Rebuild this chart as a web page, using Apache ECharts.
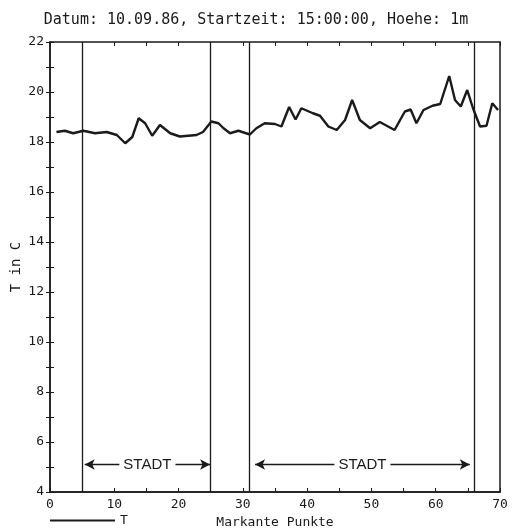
<!DOCTYPE html>
<html><head><meta charset="utf-8">
<script src="https://cdn.jsdelivr.net/npm/echarts@6/dist/echarts.min.js"></script>
<style>html,body{margin:0;padding:0;background:#fff}#c{width:512px;height:529px}</style>
</head><body><div id="c"></div>
<script>
var titleText = 'Datum: 10.09.86, Startzeit: 15:00:00, Hoehe: 1m';
var xPos = [1,2.3,3.6,5.2,7,8.8,10.4,11.7,12.8,13.8,14.8,15.9,17.1,18.7,20.2,22.8,23.8,25.1,26.2,27,28,29.3,31.1,32.1,33.4,35,36,37.2,38.2,39.1,40.9,42,43.3,44.6,45.9,47,48.2,49.8,51.3,53.6,55.2,56.1,57,58.1,59.5,60.7,62.1,63,63.9,64.9,65.8,66.9,67.9,68.8,69.7];
var tVals = [18.4,18.45,18.35,18.45,18.35,18.4,18.28,17.95,18.2,18.95,18.75,18.25,18.68,18.35,18.22,18.28,18.4,18.82,18.75,18.55,18.35,18.45,18.3,18.55,18.75,18.72,18.62,19.4,18.9,19.35,19.15,19.05,18.62,18.48,18.88,19.68,18.88,18.55,18.8,18.48,19.22,19.3,18.75,19.28,19.45,19.52,20.64,19.68,19.42,20.08,19.35,18.62,18.65,19.55,19.28];
var markantePunkte = [5, 25, 31, 66];
var stadtRanges = [[5.4, 24.9], [31.9, 65.3]];
var stadtLevel = 5.1;
var stadtLabel = 'STADT';

var mono = 'DejaVu Sans Mono';
var ink = '#1a1a1a';
var chart = echarts.init(document.getElementById('c'));
chart.setOption({
  animation: false,
  backgroundColor: '#fff',
  title: { text: titleText, left: 'center', top: 8, textStyle: { fontFamily: mono, fontSize: 15, fontWeight: 'normal', color: ink } },
  legend: { data: [{ name: 'T', icon: 'rect' }], left: 50, top: 514, padding: 0, itemWidth: 65, itemHeight: 2, itemGap: 9,
    textStyle: { fontFamily: mono, fontSize: 13, color: ink } },
  grid: { left: 50, right: 12, top: 42, bottom: 37, show: true, borderColor: ink, borderWidth: 1.5, outerBoundsMode: 'none', containLabel: false },
  xAxis: [{
    type: 'value', min: 0, max: 70, interval: 5,
    name: 'Markante Punkte', nameLocation: 'middle', nameGap: 22,
    nameTextStyle: { fontFamily: mono, fontSize: 13, color: ink },
    axisLine: { lineStyle: { color: ink, width: 1.5 } },
    axisTick: { inside: true, length: 4, lineStyle: { color: ink } },
    axisLabel: { fontFamily: mono, fontSize: 13, color: ink, margin: 6,
      formatter: function (v) { return v % 10 === 0 ? String(v) : ''; } },
    splitLine: { show: false }
  }, {
    type: 'value', min: 0, max: 70, interval: 5, position: 'top',
    axisLine: { show: false },
    axisTick: { inside: true, length: 4, lineStyle: { color: ink } },
    axisLabel: { show: false }, splitLine: { show: false }
  }],
  yAxis: [{
    type: 'value', min: 4, max: 22, interval: 1,
    name: 'T in C', nameLocation: 'middle', nameGap: 27, nameMoveOverlap: false,
    nameTextStyle: { fontFamily: mono, fontSize: 14, color: ink },
    axisLine: { show: true, lineStyle: { color: ink, width: 1.5 } },
    axisTick: { show: true, inside: true, length: 4, lineStyle: { color: ink } },
    axisLabel: { fontFamily: mono, fontSize: 13, color: ink, margin: 6,
      formatter: function (v) { return v % 2 === 0 ? String(v) : ''; } },
    splitLine: { show: false }
  }, {
    type: 'value', min: 4, max: 22, interval: 1, position: 'right',
    axisLine: { show: false },
    axisTick: { show: true, inside: true, length: 4, lineStyle: { color: ink } },
    axisLabel: { show: false }, splitLine: { show: false }
  }],
  series: [{
    name: 'T', type: 'line', symbol: 'none',
    data: xPos.map(function (x, i) { return [x, tVals[i]]; }),
    lineStyle: { color: ink, width: 2.4 },
    itemStyle: { color: ink },
    markLine: {
      silent: true, symbol: 'none', animation: false,
      lineStyle: { color: ink, width: 1.3, type: 'solid' },
      label: { show: false },
      data: markantePunkte.map(function (p) { return { xAxis: p }; })
    }
  }, {
    name: 'stadt', type: 'line', data: [], symbol: 'none',
    markLine: {
      silent: true, animation: false,
      symbol: ['arrow', 'arrow'], symbolSize: [8, 10],
      lineStyle: { color: ink, width: 1.3, type: 'solid' },
      label: { show: false },
      data: stadtRanges.map(function (r) { return [{ coord: [r[0], stadtLevel] }, { coord: [r[1], stadtLevel] }]; })
    },
    markPoint: {
      silent: true, animation: false, symbol: 'circle', symbolSize: 0,
      label: { show: true, position: 'inside', formatter: stadtLabel,
        fontFamily: 'Liberation Sans', fontSize: 15, color: ink,
        backgroundColor: '#fff', padding: [1, 4] },
      data: stadtRanges.map(function (r) { return { coord: [(r[0] + r[1]) / 2, stadtLevel] }; })
    }
  }]
});
</script></body></html>
